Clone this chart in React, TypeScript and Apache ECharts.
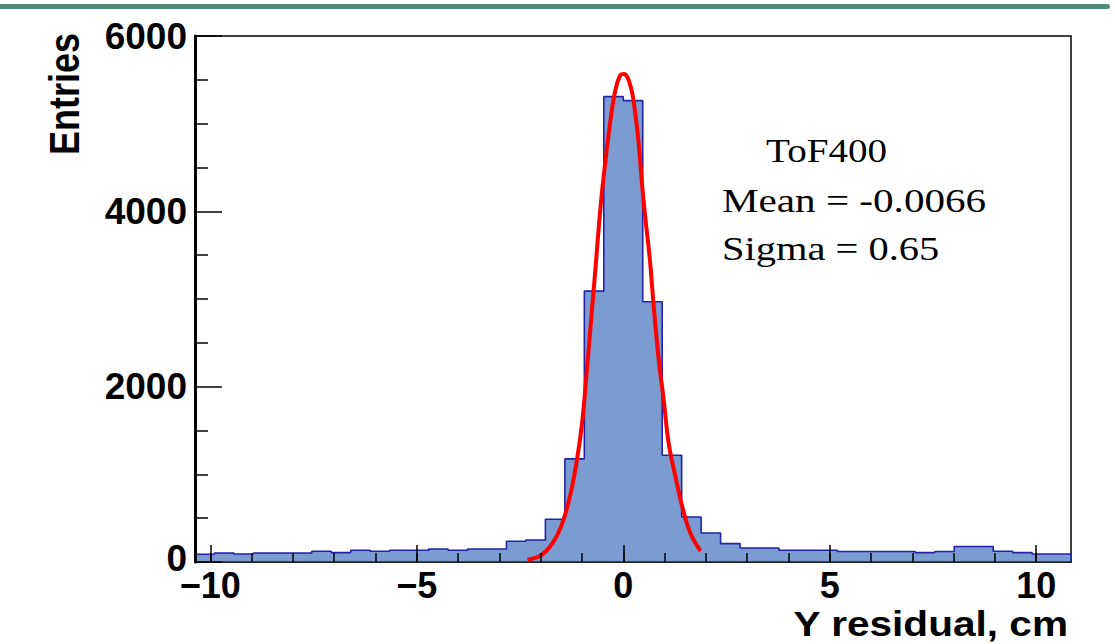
import React, { useEffect, useRef } from "react";
import * as echarts from "echarts";

// Histogram: 45 bins, bin width ~0.4714 cm, starting at -10.371 cm
const BIN_START = -10.371;
const BIN_WIDTH = 0.4714;
const binCounts = [
  88, 103, 91, 103, 103, 103, 122, 107, 134, 122, 134, 134, 149, 134, 149,
  149, 236, 251, 487, 1176, 3090, 5308, 5263, 2968, 1218, 514, 331, 210, 160,
  160, 134, 134, 134, 119, 119, 119, 119, 107, 119, 176, 176, 122, 107, 91, 91,
];

// Gaussian fit curve
const fitX = [
  -2.32, -2.0, -1.72, -1.48, -1.275, -1.11, -0.99, -0.895, -0.79, -0.67, -0.55,
  -0.43, -0.31, -0.19, -0.065, 0.015, 0.18, 0.3, 0.38, 0.46, 0.54, 0.645, 0.74,
  0.86, 0.98, 1.1, 1.265, 1.43, 1.63, 1.87,
];
const fitY = [
  27, 76, 210, 438, 781, 1199, 1618, 2112, 2700, 3368, 4053, 4586, 5042, 5384,
  5556, 5567, 5422, 5080, 4737, 4281, 3900, 3444, 2900, 2302, 1846, 1352, 970,
  628, 324, 126,
];

const xLabelTicks = [-10, -5, 0, 5, 10];
const xMinorTicks = [-10, -9, -8, -7, -6, -5, -4, -3, -2, -1, 0, 1, 2, 3, 4, 5, 6, 7, 8, 9, 10];
const legendLines = ["ToF400", "Mean = -0.0066", "Sigma = 0.65"];

const SANS = '"Liberation Sans", Arial, sans-serif';
const SERIF = '"Liberation Serif", "Times New Roman", serif';

export default function App() {
  const ref = useRef<HTMLDivElement>(null);

  useEffect(() => {
    if (!ref.current) return;
    const chart = echarts.init(ref.current, undefined, { renderer: "svg" });

    const xMin = BIN_START;
    const xMax = BIN_START + binCounts.length * BIN_WIDTH;

    const histPts: number[][] = [[xMin, 0]];
    binCounts.forEach((v, i) => {
      const e0 = BIN_START + i * BIN_WIDTH;
      const e1 = e0 + BIN_WIDTH;
      histPts.push([e0, v], [e1, v]);
    });
    histPts.push([xMax, 0]);

    const fitPts = fitX.map((x, i) => [x, fitY[i]]);

    const fmt = (v: number) => (v < 0 ? "\u2212" + Math.abs(v) : String(v));

    chart.setOption({
      animation: false,
      backgroundColor: "#ffffff",
      grid: {
        left: 195,
        top: 36,
        right: 44,
        bottom: 82,
        show: true,
        borderColor: "#000",
        borderWidth: 1.5,
        backgroundColor: "transparent",
      },
      xAxis: [
        {
          type: "value",
          min: xMin,
          max: xMax,
          z: 10,
          splitLine: { show: false },
          axisLine: { show: true, onZero: false, lineStyle: { color: "#222", width: 1.5 } },
          axisTick: {
            show: true,
            inside: true,
            length: 17,
            customValues: xLabelTicks,
            lineStyle: { color: "#000", width: 1.5 },
          },
          axisLabel: {
            show: true,
            customValues: xLabelTicks,
            formatter: fmt,
            fontFamily: SANS,
            fontWeight: "bold",
            fontSize: 36,
            lineHeight: 22,
            color: "#000",
            margin: 12,
          },
        },
        {
          type: "value",
          min: xMin,
          max: xMax,
          z: 10,
          position: "bottom",
          splitLine: { show: false },
          axisLine: { show: false, onZero: false },
          axisTick: {
            show: true,
            inside: true,
            length: 9,
            customValues: xMinorTicks,
            lineStyle: { color: "#000", width: 1.5 },
          },
          axisLabel: { show: false },
        },
      ],
      yAxis: {
        type: "value",
        min: 0,
        max: 6000,
        interval: 2000,
        z: 10,
        splitLine: { show: false },
        axisLine: { show: true, onZero: false, lineStyle: { color: "#000", width: 3 } },
        axisTick: {
          show: true,
          inside: true,
          length: 27,
          lineStyle: { color: "#000", width: 1.5 },
        },
        minorTick: {
          show: true,
          splitNumber: 4,
          length: 13,
          lineStyle: { color: "#000", width: 1.5 },
        },
        axisLabel: {
          formatter: (v: number) => (v === 0 ? "{z|0}" : String(v)),
          fontFamily: SANS,
          fontWeight: "bold",
          fontSize: 37,
          lineHeight: 22,
          color: "#000",
          margin: 8,
          rich: {
            z: {
              fontFamily: SANS,
              fontWeight: "bold",
              fontSize: 37,
              lineHeight: 22,
              color: "#000",
              padding: [0, 0, 7, 0],
            },
          },
        },
      },
      series: [
        {
          type: "line",
          name: "Y residual",
          data: histPts,
          xAxisIndex: 0,
          symbol: "none",
          lineStyle: { color: "#2323a6", width: 1.6 },
          areaStyle: { color: "#7b9bd1", opacity: 1 },
          z: 2,
        },
        {
          type: "line",
          name: "Gaussian fit",
          data: fitPts,
          xAxisIndex: 0,
          symbol: "none",
          smooth: 0.4,
          lineStyle: { color: "#ff0000", width: 4 },
          z: 5,
        },
      ],
      graphic: [
        {
          type: "rect",
          shape: { x: 0, y: 4, width: 1110, height: 5, r: [0, 3, 3, 0] },
          style: { fill: "#4f8b79" },
          silent: true,
        },
        {
          type: "text",
          x: 64,
          y: 94,
          rotation: Math.PI / 2,
          scaleY: 1.2,
          style: {
            text: "Entries",
            font: `bold 36px ${SANS}`,
            fill: "#000",
            align: "center",
            verticalAlign: "middle",
          },
        },
        {
          type: "text",
          x: 1068,
          y: 624,
          scaleX: 1.16,
          style: {
            text: "Y residual, cm",
            font: `bold 35px ${SANS}`,
            fill: "#000",
            align: "right",
            verticalAlign: "middle",
          },
        },
        {
          type: "text",
          x: 766,
          y: 150,
          scaleX: 1.15,
          style: {
            text: legendLines[0],
            font: `34px ${SERIF}`,
            fill: "#000",
            align: "left",
            verticalAlign: "middle",
          },
        },
        {
          type: "text",
          x: 722,
          y: 200,
          scaleX: 1.21,
          style: {
            text: legendLines[1],
            font: `34px ${SERIF}`,
            fill: "#000",
            align: "left",
            verticalAlign: "middle",
          },
        },
        {
          type: "text",
          x: 722,
          y: 249,
          scaleX: 1.19,
          style: {
            text: legendLines[2],
            font: `34px ${SERIF}`,
            fill: "#000",
            align: "left",
            verticalAlign: "middle",
          },
        },
      ],
    });

    return () => chart.dispose();
  }, []);

  return (
    <div
      ref={ref}
      style={{
        position: "fixed",
        left: 0,
        top: 0,
        width: 1115,
        height: 644,
        background: "#fff",
      }}
    />
  );
}
